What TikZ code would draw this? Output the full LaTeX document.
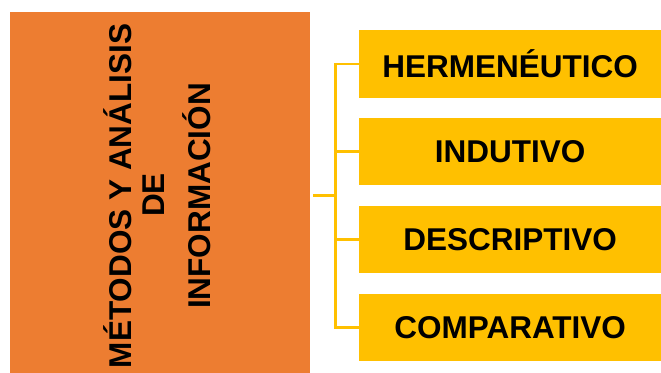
\documentclass[tikz,border=0pt]{standalone}
\usepackage{fontspec}
\setmainfont{Liberation Sans}
\definecolor{borange}{HTML}{ED7D31}
\definecolor{byellow}{HTML}{FFC000}
\begin{document}
\begin{tikzpicture}[x=1pt,y=-1pt,
  mainbox/.style={fill=borange,draw=none,minimum width=300pt,minimum height=362pt,inner sep=0pt},
  itembox/.style={fill=byellow,draw=none,minimum width=302pt,minimum height=67.5pt,inner sep=0pt,anchor=west,
    font=\fontsize{31.5pt}{36pt}\selectfont\bfseries},
  rtext/.style={rotate=90,anchor=base,inner sep=0pt,font=\fontsize{31.5pt}{36pt}\selectfont\bfseries},
  conn/.style={draw=byellow,line width=2.5pt}]
\useasboundingbox (0,0) rectangle (661,372);
\node[mainbox,anchor=north west] (main) at (10,12) {};
\node[rtext] (t1) at (131,196) {MÉTODOS Y ANÁLISIS};
\node[rtext] (t2) at (164.3,195) {DE};
\node[rtext] (t3) at (210,196) {INFORMACIÓN};
\node[itembox] (h1) at (359,63.8) {HERMENÉUTICO};
\node[itembox] (h2) at (359,151.6) {INDUTIVO};
\node[itembox] (h3) at (359,239.7) {DESCRIPTIVO};
\node[itembox] (h4) at (359,327.5) {COMPARATIVO};
\coordinate (j) at (335.5,195.6);
\draw[conn,shorten <=3pt] (main.east |- j) -- (j);
\draw[conn] (j) |- (h1.west);
\draw[conn] (j) |- (h2.west);
\draw[conn] (j) |- (h3.west);
\draw[conn] (j) |- (h4.west);
\end{tikzpicture}
\end{document}
